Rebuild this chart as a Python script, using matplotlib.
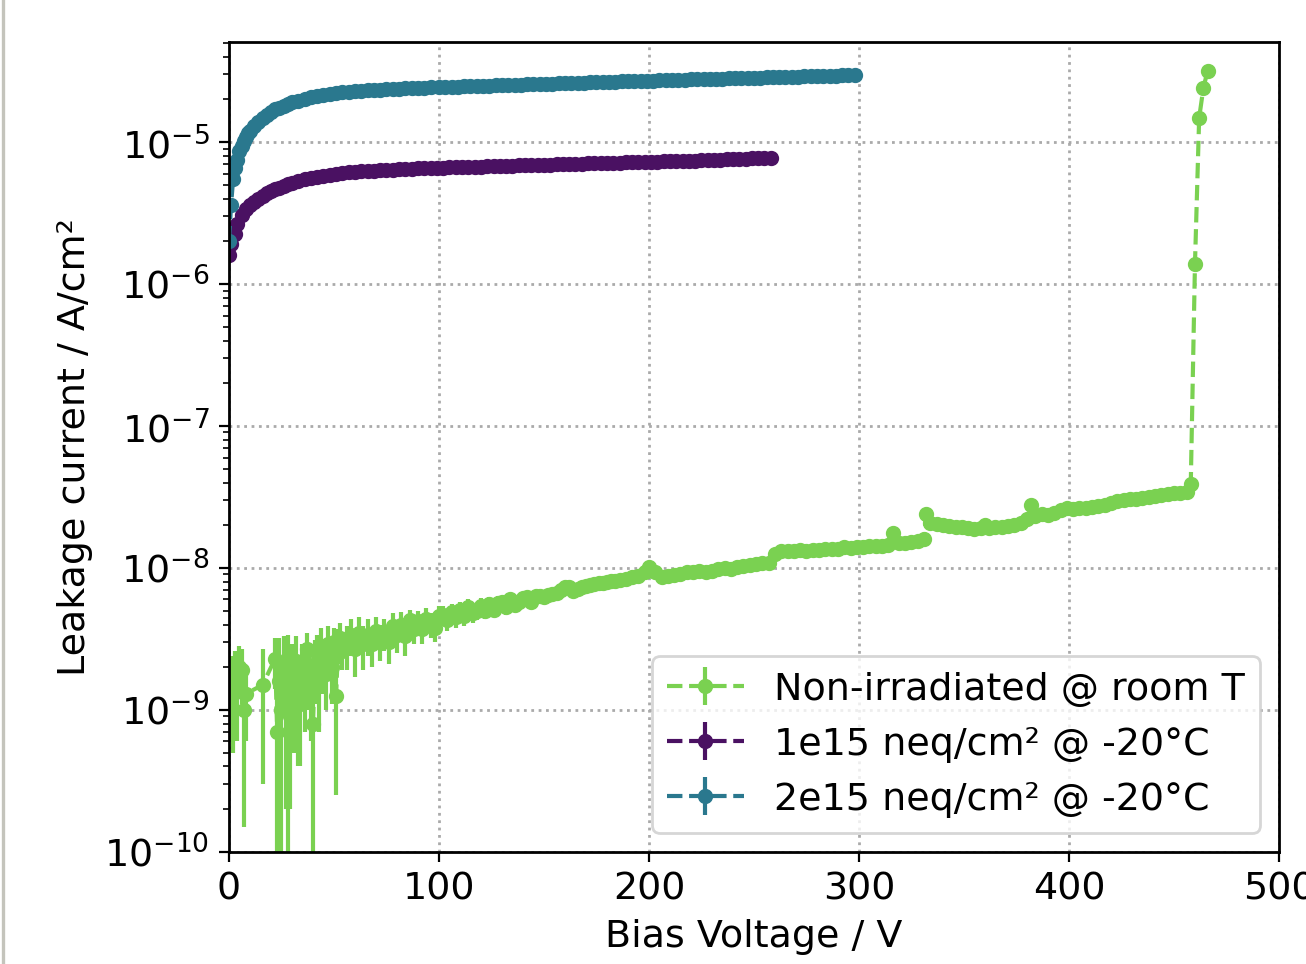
import matplotlib
matplotlib.use("Agg")
import matplotlib.pyplot as plt
from matplotlib.lines import Line2D
import numpy as np

# ---------------- data ----------------
# Non-irradiated @ room T  (values in units of 1e-9 A/cm^2)
green_V = [1, 2, 3, 4, 5, 6, 7, 8, 16,
           22, 23, 24, 25, 26, 27, 28, 29, 30, 31,
           32, 33, 34, 35, 36, 37, 38, 39, 40, 41,
           42, 43, 44, 45, 46, 47, 48, 49, 50, 51,
           52, 53, 54,
           56, 58, 60, 62, 64, 66, 68, 70, 72, 74,
           76, 78, 80, 82, 84, 86, 88, 90, 92, 94,
           96, 98, 100,
           102, 104, 106, 108, 110, 112, 114, 116, 118, 120,
           122, 124, 126, 128, 130, 132, 134, 136, 138, 140,
           142, 144, 146, 148, 150, 152, 154, 156, 158, 160,
           162, 164, 166, 168, 170, 172, 174, 176, 178, 180,
           182, 184, 186,
           189, 192, 195, 198, 200, 203, 206, 209, 212, 215,
           218, 221, 224, 227, 230, 233, 236, 239, 242, 245,
           248, 251, 254, 257, 260, 263, 266, 269, 272, 275,
           278, 281, 284, 287, 290, 293, 296, 299, 302, 305,
           308, 311, 314, 316, 319, 322, 325, 328, 331, 332,
           334, 337, 340, 343, 346, 349, 352, 355, 358, 360,
           362, 365, 368, 371, 374, 377, 380, 382, 384, 387,
           390, 393, 396, 399, 402, 405, 408, 411, 414, 417,
           420, 423, 426, 429, 432, 435, 438, 441, 444, 447,
           450, 453, 456, 458, 460, 462, 464, 466]
green_nA = [1.5, 1.3, 1.9, 1.5, 2.0, 1.9, 1.0, 1.3, 1.5,
            2.3, 0.7, 1.6, 1.0, 2.1, 1.2, 1.7, 0.9, 1.9, 1.3,
            2.2, 1.4, 1.1, 2.0, 1.6, 2.7, 1.8, 1.4, 0.8, 2.1,
            2.5, 1.6, 2.8, 2.2, 1.8, 2.9, 2.4, 2.0, 3.0, 1.25,
            2.9, 3.2, 2.6,
            2.9, 3.4, 2.7, 3.5, 2.9, 3.4, 2.9, 3.6, 3.1, 3.5,
            3.0, 3.9, 3.4, 4.0, 3.3, 4.3, 3.7, 4.2, 3.7, 4.4,
            4.0, 3.8, 4.6,
            4.7, 4.3, 4.9, 4.5, 5.1, 4.6, 5.3, 4.8, 5.0, 5.4,
            5.0, 5.6, 5.1, 5.7, 5.8, 5.3, 6.0, 5.5, 5.8, 6.1,
            6.2, 5.8, 6.3, 6.4, 6.2, 6.5, 6.6, 6.7, 7.0, 7.3,
            7.4, 6.9, 7.1, 7.4, 7.5, 7.6, 7.7, 7.8, 7.9, 8.0,
            8.1, 8.1, 8.2,
            8.4, 8.6, 8.8, 9.4, 10.2, 9.4, 8.6, 8.8, 8.9, 9.1,
            9.3, 9.4, 9.5, 9.3, 9.6, 9.8, 10.0, 9.8, 10.1, 10.3,
            10.5, 10.6, 10.8, 10.9, 12.6, 13.2, 13.1, 13.2, 13.3, 13.2,
            13.4, 13.3, 13.6, 13.5, 13.7, 14.0, 13.8, 14.1, 14.0, 14.2,
            14.3, 14.3, 14.6, 17.7, 14.9, 15.1, 15.3, 15.6, 16.0, 24.0,
            20.6, 20.4, 20.1, 19.8, 19.5, 19.3, 19.1, 18.9, 19.0, 20.0,
            19.1, 19.3, 19.5, 19.7, 20.0, 20.6, 22.0, 27.7, 23.2, 24.0,
            23.6, 24.5, 25.8, 26.4, 26.0, 26.3, 26.5, 26.8, 27.5, 28.0,
            28.6, 29.5, 30.0, 30.4, 30.7, 31.0, 31.5, 32.0, 32.5, 33.0,
            33.5, 34.0, 34.5, 39.0, 1380, 14800, 24000, 31600]
green_err_nA = [0.9, 0.8, 0.7, 0.9, 0.8, 0.8, 0.85, 0.7, 1.2,
                0.9, 0.9, 1.6, 1.0, 1.2, 1.0, 1.7, 0.7, 1.0, 0.8,
                1.1, 1.0, 0.7, 0.9, 0.9, 0.8, 0.8, 0.8, 1.0, 1.0,
                0.9, 0.9, 1.0, 0.9, 0.8, 1.0, 0.8, 0.9, 0.8, 1.0,
                0.8, 0.9, 0.7,
                1.0, 1.0, 1.0, 1.0, 1.0, 1.0, 0.9, 0.9, 0.9, 0.9,
                0.9, 0.9, 0.9, 0.9, 0.9, 0.8, 0.8, 0.8, 0.8, 0.8,
                0.8, 0.8, 0.8,
                0.7, 0.7, 0.7, 0.7, 0.7, 0.7, 0.7, 0.7, 0.7, 0.7,
                0.6, 0.6, 0.6, 0.6, 0.6, 0.6, 0.6, 0.6, 0.6, 0.6,
                0.5, 0.5, 0.5, 0.5, 0.5, 0.4, 0.4, 0.4, 0.4, 0.4,
                0.4, 0.4, 0.4, 0.4, 0.4, 0.35, 0.35, 0.35, 0.35, 0.35,
                0.35, 0.35, 0.35,
                0.3, 0.3, 0.3, 0.3, 0.3, 0.3, 0.3, 0.3, 0.3, 0.3,
                0.3, 0.3, 0.3, 0.3, 0.3, 0.3, 0.3, 0.3, 0.3, 0.3,
                0.3, 0.3, 0.3, 0.3, 0.3, 0.3, 0.3, 0.3, 0.3, 0.3,
                0.3, 0.3, 0.3, 0.3, 0.3, 0.3, 0.3, 0.3, 0.3, 0.3,
                0.3, 0.3, 0.3, 0.3, 0.3, 0.3, 0.3, 0.3, 0.3, 0.4,
                0.4, 0.4, 0.4, 0.4, 0.4, 0.4, 0.4, 0.4, 0.4, 0.4,
                0.4, 0.4, 0.4, 0.4, 0.4, 0.4, 0.4, 0.5, 0.5, 0.5,
                0.5, 0.5, 0.5, 0.5, 0.5, 0.5, 0.5, 0.5, 0.5, 0.5,
                0.5, 0.5, 0.5, 0.5, 0.5, 0.5, 0.5, 0.5, 0.5, 0.5,
                0.5, 0.5, 0.5, 0.6, 30, 300, 500, 600]

# 1e15 neq/cm² @ -20°C (values in units of 1e-6 A/cm^2)
purple_V = [0, 1, 3, 4, 6, 8, 10, 12, 14, 16,
            18, 20, 22, 24, 26, 28, 30,
            33, 36, 39, 42, 45, 48, 51, 54, 57, 60,
            63, 66, 69, 72, 75, 78, 81, 84, 87, 90,
            93, 96, 99,
            102, 105, 108, 111, 114, 117, 120, 123, 126, 129,
            132, 135, 138, 141, 144, 147, 150, 153, 156, 159,
            162, 165, 168, 171, 174, 177, 180, 183, 186, 189,
            192, 195, 198, 201, 204, 207, 210, 213, 216, 219,
            222, 225, 228, 231, 234, 237, 240, 243, 246, 249,
            252, 255, 258]
purple_uA = [1.6, 1.9, 2.25, 2.65, 3.05, 3.35, 3.6, 3.8, 3.95, 4.15,
             4.35, 4.5, 4.65, 4.75, 4.9, 5.05, 5.15,
             5.3, 5.45, 5.6, 5.7, 5.8, 5.9, 5.97, 6.05, 6.1, 6.15,
             6.2, 6.24, 6.28, 6.32, 6.36, 6.4, 6.43, 6.46, 6.49, 6.51,
             6.53, 6.55, 6.58,
             6.6, 6.62, 6.64, 6.66, 6.68, 6.7, 6.72, 6.74, 6.76, 6.78,
             6.8, 6.82, 6.84, 6.86, 6.88, 6.9, 6.92, 6.94, 6.96, 6.98,
             7.0, 7.02, 7.04, 7.06, 7.08, 7.1, 7.12, 7.14, 7.16, 7.18,
             7.2, 7.22, 7.24, 7.26, 7.28, 7.3, 7.32, 7.34, 7.36, 7.38,
             7.41, 7.44, 7.47, 7.5, 7.53, 7.56, 7.59, 7.62, 7.65, 7.68,
             7.7, 7.72, 7.75]
purple_err_uA = 0.05

# 2e15 neq/cm² @ -20°C (values in units of 1e-6 A/cm^2)
teal_V = [0, 1, 2, 3, 4, 5, 6, 7, 8, 9, 10,
          12, 14, 16, 18, 20, 22, 24, 26, 28, 30,
          33, 36, 39, 42, 45, 48, 51, 54, 57, 60,
          63, 66, 69, 72, 75, 78, 81, 84, 87, 90,
          93, 96,
          100, 103, 106, 109, 112, 115, 118, 121, 124, 127,
          130, 133, 136, 139, 142, 145, 148, 151, 154, 157,
          160, 163, 166, 169, 172, 175, 178, 181, 184, 187,
          190, 193, 196, 199, 202, 205, 208, 211, 214, 217,
          220, 223, 226, 229, 232, 235, 238, 241, 244, 247,
          250, 253, 256, 259, 262, 265, 268, 271, 274, 277,
          280, 283, 286, 289, 292, 295, 298]
teal_uA = [2.0, 3.6, 5.5, 6.6, 7.5, 8.6, 9.4, 10.1, 10.8, 11.5, 12.0,
           13.0, 13.9, 14.8, 15.6, 16.3, 17.0, 17.5, 18.0, 18.5, 19.0,
           19.6, 20.2, 20.7, 21.1, 21.5, 21.8, 22.1, 22.4, 22.6, 22.8,
           23.0, 23.1, 23.3, 23.4, 23.5, 23.6, 23.75, 23.85, 23.95, 24.1,
           24.2, 24.3,
           24.4, 24.5, 24.55, 24.6, 24.7, 24.8, 24.85, 24.9, 25.0, 25.1,
           25.2, 25.25, 25.3, 25.4, 25.5, 25.6, 25.65, 25.7, 25.8, 25.9,
           26.0, 26.05, 26.1, 26.2, 26.3, 26.4, 26.45, 26.5, 26.6, 26.7,
           26.8, 26.85, 26.9, 27.0, 27.1, 27.2, 27.25, 27.3, 27.4, 27.5,
           27.6, 27.65, 27.7, 27.8, 27.9, 28.0, 28.05, 28.1, 28.2, 28.3,
           28.4, 28.45, 28.5, 28.6, 28.7, 28.8, 28.85, 28.9, 29.0, 29.1,
           29.2, 29.25, 29.3, 29.4, 29.45, 29.5, 29.6]
teal_err_uA = 0.1

labels = ["Non-irradiated @ room T", "1e15 neq/cm² @ -20°C", "2e15 neq/cm² @ -20°C"]
colors = ["#7ad151", "#4a1162", "#2a788e"]

# ---------------- plot ----------------
plt.rcParams['font.family'] = ['DejaVu Sans']
plt.rcParams['font.size'] = 13.7

fig = plt.figure(figsize=(6.53, 4.82), dpi=200)
ax = fig.add_axes([0.1753, 0.1162, 0.8040, 0.8402])

series = [
    (green_V, np.array(green_nA) * 1e-9, np.array(green_err_nA) * 1e-9),
    (purple_V, np.array(purple_uA) * 1e-6, purple_err_uA * 1e-6),
    (teal_V, np.array(teal_uA) * 1e-6, teal_err_uA * 1e-6),
]
for (x, y, e), lab, c in zip(series, labels, colors):
    ax.errorbar(x, y, yerr=e, fmt='o--', color=c, markersize=4.5,
                linewidth=1.5, elinewidth=1.5, label=lab)

ax.set_yscale('log')
ax.set_xlim(0, 500)
ax.set_ylim(1e-10, 5.06e-5)
ax.set_xticks([0, 100, 200, 300, 400, 500])
ax.grid(True, which='major', linestyle=':', color='#aaaaaa', linewidth=1.0)
ax.set_axisbelow(True)
for s in ax.spines.values():
    s.set_linewidth(1.0)

ax.set_xlabel("Bias Voltage / V")
ax.set_ylabel("Leakage current / A/cm²")
ax.legend(loc='lower right', fontsize=13.7)

fig.add_artist(Line2D([0.0025, 0.0025], [0, 1], transform=fig.transFigure,
                      color='#c4c4bc', linewidth=1.2))

fig.savefig("out.png", dpi=200)
